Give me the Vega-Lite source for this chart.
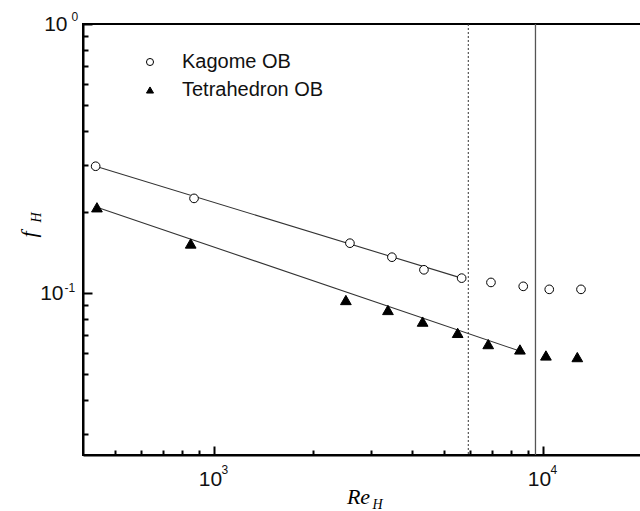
{
  "$schema": "https://vega.github.io/schema/vega-lite/v6.json",
  "width": 559,
  "height": 431,
  "autosize": {"type": "none"},
  "padding": {"left": 83, "top": 24, "right": 0, "bottom": 56},
  "background": "white",
  "config": {
    "view": {"stroke": "black", "strokeWidth": 2},
    "font": "Liberation Sans",
    "axis": {"grid": false}
  },
  "datasets": {
    "points": [
      {"series": "Kagome OB", "Re": 437, "f": 0.296},
      {"series": "Kagome OB", "Re": 870, "f": 0.2248},
      {"series": "Kagome OB", "Re": 2590, "f": 0.1532},
      {"series": "Kagome OB", "Re": 3475, "f": 0.1359},
      {"series": "Kagome OB", "Re": 4348, "f": 0.122},
      {"series": "Kagome OB", "Re": 5661, "f": 0.1136},
      {"series": "Kagome OB", "Re": 6950, "f": 0.1095},
      {"series": "Kagome OB", "Re": 8711, "f": 0.1059},
      {"series": "Kagome OB", "Re": 10450, "f": 0.1032},
      {"series": "Kagome OB", "Re": 13050, "f": 0.1032},
      {"series": "Tetrahedron OB", "Re": 441, "f": 0.2083},
      {"series": "Tetrahedron OB", "Re": 850, "f": 0.1528},
      {"series": "Tetrahedron OB", "Re": 2518, "f": 0.0942},
      {"series": "Tetrahedron OB", "Re": 3380, "f": 0.0865},
      {"series": "Tetrahedron OB", "Re": 4308, "f": 0.0783},
      {"series": "Tetrahedron OB", "Re": 5505, "f": 0.0711},
      {"series": "Tetrahedron OB", "Re": 6818, "f": 0.0646},
      {"series": "Tetrahedron OB", "Re": 8513, "f": 0.0617},
      {"series": "Tetrahedron OB", "Re": 10210, "f": 0.0586},
      {"series": "Tetrahedron OB", "Re": 12718, "f": 0.0578}
    ],
    "fits": [
      {"series": "Kagome OB", "Re": 437, "f": 0.296},
      {"series": "Kagome OB", "Re": 5661, "f": 0.1136},
      {"series": "Tetrahedron OB", "Re": 441, "f": 0.2083},
      {"series": "Tetrahedron OB", "Re": 8800, "f": 0.06}
    ],
    "vlines": [
      {"kind": "dotted", "Re": 5930},
      {"kind": "solid", "Re": 9490}
    ]
  },
  "resolve": {"axis": {"x": "independent", "y": "independent"}},
  "layer": [
    {
      "data": {"name": "vlines"},
      "transform": [{"filter": "datum.kind === 'dotted'"}],
      "mark": {"type": "rule", "color": "#333333", "strokeWidth": 1, "strokeDash": [2, 2]},
      "encoding": {
        "x": {"field": "Re", "type": "quantitative", "scale": {"type": "log", "domain": [400, 20000], "nice": false}, "axis": null}
      }
    },
    {
      "data": {"name": "vlines"},
      "transform": [{"filter": "datum.kind === 'solid'"}],
      "mark": {"type": "rule", "color": "#555555", "strokeWidth": 1.3},
      "encoding": {
        "x": {"field": "Re", "type": "quantitative", "axis": null}
      }
    },
    {
      "data": {"name": "fits"},
      "transform": [{"filter": "datum.series === 'Kagome OB'"}],
      "mark": {"type": "line", "color": "#333333", "strokeWidth": 1.1},
      "encoding": {
        "x": {"field": "Re", "type": "quantitative", "axis": {
          "orient": "bottom", "domain": false, "ticks": false,
          "values": [1000, 10000],
          "labelExpr": "'10'",
          "labelFontSize": 21, "labelColor": "#111111",
          "labelAlign": "center", "labelBaseline": "top",
          "labelOffset": -4, "labelPadding": 13,
          "labelOverlap": false,
          "title": "H", "titleFont": "Liberation Serif", "titleFontStyle": "italic", "titleFontWeight": "normal", "titleFontSize": 14,
          "titleX": 294, "titleY": 53, "titleAlign": "center", "titleBaseline": "alphabetic"}},
        "y": {"field": "f", "type": "quantitative", "axis": {
          "orient": "left", "domain": false, "ticks": false,
          "values": [0.1, 1],
          "labelExpr": "'10'",
          "labelFontSize": 21, "labelColor": "#111111",
          "labelAlign": "right", "labelBaseline": "middle",
          "labelPadding": {"condition": {"test": "datum.value === 1", "value": 16}, "value": 20},
          "labelOverlap": false,
          "title": "H", "titleFont": "Liberation Serif", "titleFontStyle": "italic", "titleFontWeight": "normal", "titleFontSize": 14,
          "titleX": -43, "titleY": 193, "titleAngle": -90, "titleAlign": "center", "titleBaseline": "alphabetic"}}
      }
    },
    {
      "data": {"name": "fits"},
      "transform": [{"filter": "datum.series === 'Tetrahedron OB'"}],
      "mark": {"type": "line", "color": "#333333", "strokeWidth": 1.1},
      "encoding": {
        "x": {"field": "Re", "type": "quantitative", "axis": {
          "orient": "bottom", "domain": false, "ticks": false,
          "values": [1000, 10000],
          "labelExpr": "datum.value === 1000 ? '3' : '4'",
          "labelFontSize": 12, "labelColor": "#111111",
          "labelAlign": "left", "labelBaseline": "top",
          "labelOffset": 7, "labelPadding": 9,
          "labelOverlap": false,
          "title": null}},
        "y": {"field": "f", "type": "quantitative", "axis": {
          "orient": "left", "domain": false, "ticks": false,
          "values": [0.1, 1],
          "labelExpr": "datum.value === 1 ? '0' : '-1'",
          "labelFontSize": 12, "labelColor": "#111111",
          "labelAlign": "left", "labelBaseline": "middle",
          "labelPadding": {"condition": {"test": "datum.value === 1", "value": 12}, "value": 19},
          "labelOffset": {"condition": {"test": "datum.value === 1", "value": -8}, "value": -6},
          "labelOverlap": false,
          "title": null}}
      }
    },
    {
      "data": {"name": "points"},
      "transform": [{"filter": "datum.series === 'Tetrahedron OB'"}],
      "mark": {"type": "point", "filled": true, "strokeWidth": 1, "opacity": 1, "size": 115},
      "encoding": {
        "x": {"field": "Re", "type": "quantitative", "axis": null},
        "y": {"field": "f", "type": "quantitative", "axis": null},
        "shape": {"field": "series", "type": "nominal"},
        "fill": {"field": "series", "type": "nominal"},
        "stroke": {"field": "series", "type": "nominal"}
      }
    },
    {
      "data": {"name": "points"},
      "transform": [{"filter": "datum.series === 'Kagome OB'"}],
      "mark": {"type": "point", "filled": true, "strokeWidth": 1, "opacity": 1, "size": 75},
      "encoding": {
        "x": {
          "field": "Re", "type": "quantitative",
          "axis": {
            "orient": "bottom",
            "values": [500, 600, 700, 800, 900, 1000, 2000, 3000, 4000, 5000, 6000, 7000, 8000, 9000, 10000, 20000],
            "labels": false,
            "tickSize": {"condition": {"test": "datum.value === 1000 || datum.value === 10000", "value": -9}, "value": -5},
            "tickWidth": 2,
            "tickColor": "black",
            "domainColor": "black",
            "domainWidth": 2,
            "title": "Re",
            "titleFont": "Liberation Serif",
            "titleFontStyle": "italic",
            "titleFontWeight": "normal",
            "titleFontSize": 22,
            "titleX": 275,
            "titleY": 48,
            "titleAlign": "center",
            "titleBaseline": "alphabetic"
          }
        },
        "y": {
          "field": "f", "type": "quantitative",
          "scale": {"type": "log", "domain": [0.025, 1], "nice": false},
          "axis": {
            "orient": "left",
            "values": [0.03, 0.04, 0.05, 0.06, 0.07, 0.08, 0.09, 0.1, 0.2, 0.3, 0.4, 0.5, 0.6, 0.7, 0.8, 0.9, 1],
            "labels": false,
            "tickSize": {"condition": {"test": "datum.value === 1 || datum.value === 0.1", "value": -9}, "value": -5},
            "tickWidth": 2,
            "tickColor": "black",
            "domainColor": "black",
            "domainWidth": 2,
            "title": "f",
            "titleFont": "Liberation Serif",
            "titleFontStyle": "italic",
            "titleFontWeight": "normal",
            "titleFontSize": 22,
            "titleX": -48,
            "titleY": 210,
            "titleAngle": -90,
            "titleAlign": "center",
            "titleBaseline": "alphabetic"
          }
        },
        "shape": {
          "field": "series", "type": "nominal",
          "scale": {"domain": ["Kagome OB", "Tetrahedron OB"], "range": ["circle", "triangle-up"]},
          "legend": {
            "orient": "none", "legendX": 57, "legendY": 28, "title": null,
            "labelFontSize": 20, "labelColor": "#111111", "labelOffset": 22,
            "symbolSize": 50, "symbolStrokeWidth": 1, "rowPadding": 8
          }
        },
        "fill": {
          "field": "series", "type": "nominal",
          "scale": {"domain": ["Kagome OB", "Tetrahedron OB"], "range": ["white", "black"]},
          "legend": {
            "orient": "none", "legendX": 57, "legendY": 28, "title": null,
            "labelFontSize": 20, "labelColor": "#111111", "labelOffset": 22,
            "symbolSize": 50, "symbolStrokeWidth": 1, "rowPadding": 8
          }
        },
        "stroke": {
          "field": "series", "type": "nominal",
          "scale": {"domain": ["Kagome OB", "Tetrahedron OB"], "range": ["black", "black"]},
          "legend": {
            "orient": "none", "legendX": 57, "legendY": 28, "title": null,
            "labelFontSize": 20, "labelColor": "#111111", "labelOffset": 22,
            "symbolSize": 50, "symbolStrokeWidth": 1, "rowPadding": 8
          }
        }
      }
    }
  ]
}
